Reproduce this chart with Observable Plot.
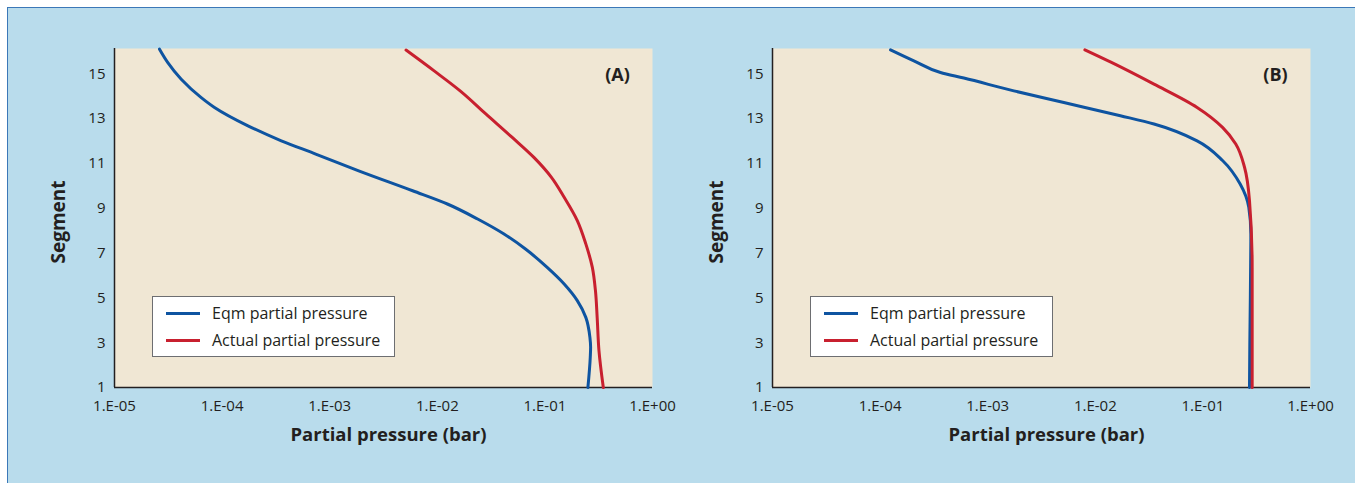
<!DOCTYPE html>
<html>
<head>
<meta charset="utf-8">
<script src="https://cdn.jsdelivr.net/npm/d3@7"></script>
<script src="https://cdn.jsdelivr.net/npm/@observablehq/plot@0.6"></script>
<style>
  html, body { margin: 0; padding: 0; background: #ffffff; }
  body { width: 1355px; height: 483px; position: relative; overflow: hidden; font-family: "Open Sans", sans-serif; }
  #bg { position: absolute; left: 7px; top: 7px; right: 0; bottom: 0; background: #b9dcec;
        border-top: 1.5px solid #3b78b8; border-left: 1.5px solid #3b78b8; }
  .panel { position: absolute; top: 0; }
  .legend { position: absolute; width: 243px; height: 61px; background: #ffffff; border: 1px solid #6d6e71; box-sizing: border-box; }
  .legend .row { position: absolute; left: 0; height: 20px; display: flex; align-items: center; }
  .legend .sw { width: 34px; height: 3px; margin-left: 13px; margin-right: 12px; }
  .legend .lab { font-size: 16px; color: #231f20; white-space: nowrap; }
</style>
</head>
<body>
<div id="bg"></div>
<script>
// ---- data ----
const xTicks = [1e-5, 1e-4, 1e-3, 1e-2, 1e-1, 1];
const xTickLabels = ["1.E-05", "1.E-04", "1.E-03", "1.E-02", "1.E-01", "1.E+00"];
const yTicks = [1, 3, 5, 7, 9, 11, 13, 15];
const seriesNames = ["Eqm partial pressure", "Actual partial pressure"];
const panelLabels = ["(A)", "(B)"];
const xTitle = "Partial pressure (bar)";
const yTitle = "Segment";

// Panel A – equilibrium partial pressure
const segA_eqm  = [16.1, 15.5, 14.76, 13.94, 13.5, 12.68, 12.01, 11.42, 10.67, 9.78, 9.19, 8.52, 7.85, 7.18, 6.36, 5.62, 4.88, 4.13, 3.24, 2.8, 2.35, 1.0];
const presA_eqm = [2.62e-5, 3.13e-5, 4.17e-5, 6.4e-5, 8.5e-5, 1.74e-4, 3.55e-4, 7.41e-4, 1.86e-3, 5.9e-3, 0.0124, 0.0237, 0.0417, 0.066, 0.105, 0.151, 0.20, 0.24, 0.262, 0.266, 0.264, 0.251];
// Panel A – actual partial pressure
const segA_act  = [16.06, 15.13, 14.24, 13.20, 12.16, 11.27, 10.38, 9.49, 8.45, 7.41, 6.36, 5.32, 4.13, 2.65, 1.0];
const presA_act = [5.12e-3, 9.35e-3, 0.0163, 0.0284, 0.0497, 0.079, 0.115, 0.151, 0.20, 0.24, 0.276, 0.295, 0.306, 0.318, 0.349];
// Panel B – equilibrium partial pressure
const segB_eqm  = [16.07, 15.58, 15.06, 14.81, 14.24, 13.72, 13.13, 12.76, 12.01, 11.12, 10.08, 9.04, 7.85, 5.0, 3.0, 1.0];
const presB_eqm = [1.25e-4, 2.06e-4, 3.64e-4, 6.0e-4, 1.75e-3, 5.1e-3, 0.0171, 0.0351, 0.0883, 0.153, 0.222, 0.267, 0.279, 0.276, 0.273, 0.271];
// Panel B – actual partial pressure
const segB_act  = [16.07, 15.52, 14.54, 13.5, 12.6, 11.87, 10.82, 9.34, 6.36, 3.5, 1.0];
const presB_act = [8.0e-3, 0.01396, 0.0351, 0.0883, 0.153, 0.202, 0.244, 0.271, 0.287, 0.287, 0.287];

const colors = ["#0e54a1", "#c8202f"];

function zip(seg, pres) { return seg.map((s, i) => ({seg: s, p: pres[i]})); }

function fmtX(d) {
  const i = xTicks.findIndex(t => Math.abs(Math.log10(t) - Math.log10(d)) < 1e-6);
  return i >= 0 ? xTickLabels[i] : "";
}

function makePanel(eqm, act, label) {
  return Plot.plot({
    width: 677,
    height: 483,
    marginLeft: 114,
    marginRight: 25,
    marginTop: 48,
    marginBottom: 96,
    x: {type: "log", domain: [1e-5, 1]},
    y: {domain: [1, 16.13]},
    style: {background: "transparent", fontFamily: "'Open Sans', sans-serif", fontSize: "15px", color: "#231f20", overflow: "visible"},
    marks: [
      Plot.frame({fill: "#f0e7d4", stroke: null}),
      Plot.axisX({ticks: xTicks, tickFormat: fmtX, tickSize: 0, tickPadding: 13, label: null, fill: "#231f20", fontSize: 15}),
      Plot.axisY({ticks: yTicks, tickSize: 0, tickPadding: 9, label: null, fill: "#231f20", fontSize: 15}),
      Plot.ruleX([1e-5], {stroke: "#231f20", strokeWidth: 1.5}),
      Plot.ruleY([1], {stroke: "#231f20", strokeWidth: 1.5}),
      Plot.line(eqm, {x: "p", y: "seg", stroke: colors[0], strokeWidth: 3, curve: "monotone-y"}),
      Plot.line(act, {x: "p", y: "seg", stroke: colors[1], strokeWidth: 3, curve: "monotone-y"}),
      Plot.text([xTitle], {frameAnchor: "bottom", dx: 5, dy: 48, textAnchor: "middle", lineAnchor: "middle", fontWeight: "bold", fontSize: 18.5, fill: "#231f20"}),
      Plot.text([yTitle], {frameAnchor: "left", dx: -56, dy: 4, rotate: -90, textAnchor: "middle", lineAnchor: "middle", fontWeight: "bold", fontSize: 19, fill: "#231f20"}),
      Plot.text([label], {frameAnchor: "top-right", dx: -35, dy: 27, textAnchor: "middle", lineAnchor: "middle", fontWeight: "bold", fontSize: 18, fill: "#231f20"})
    ]
  });
}

const panels = [
  {left: 0, eqm: zip(segA_eqm, presA_eqm), act: zip(segA_act, presA_act), label: panelLabels[0]},
  {left: 658, eqm: zip(segB_eqm, presB_eqm), act: zip(segB_act, presB_act), label: panelLabels[1]}
];

panels.forEach(pn => {
  const wrap = document.createElement("div");
  wrap.className = "panel";
  wrap.style.left = pn.left + "px";
  wrap.appendChild(makePanel(pn.eqm, pn.act, pn.label));
  document.body.appendChild(wrap);

  const lg = document.createElement("div");
  lg.className = "legend";
  lg.style.left = (pn.left + 152) + "px";
  lg.style.top = "296px";
  seriesNames.forEach((name, i) => {
    const row = document.createElement("div");
    row.className = "row";
    row.style.top = (i === 0 ? 6 : 33) + "px";
    const sw = document.createElement("div");
    sw.className = "sw";
    sw.style.background = colors[i];
    const lab = document.createElement("span");
    lab.className = "lab";
    lab.textContent = name;
    row.appendChild(sw);
    row.appendChild(lab);
    lg.appendChild(row);
  });
  document.body.appendChild(lg);
});
</script>
</body>
</html>
